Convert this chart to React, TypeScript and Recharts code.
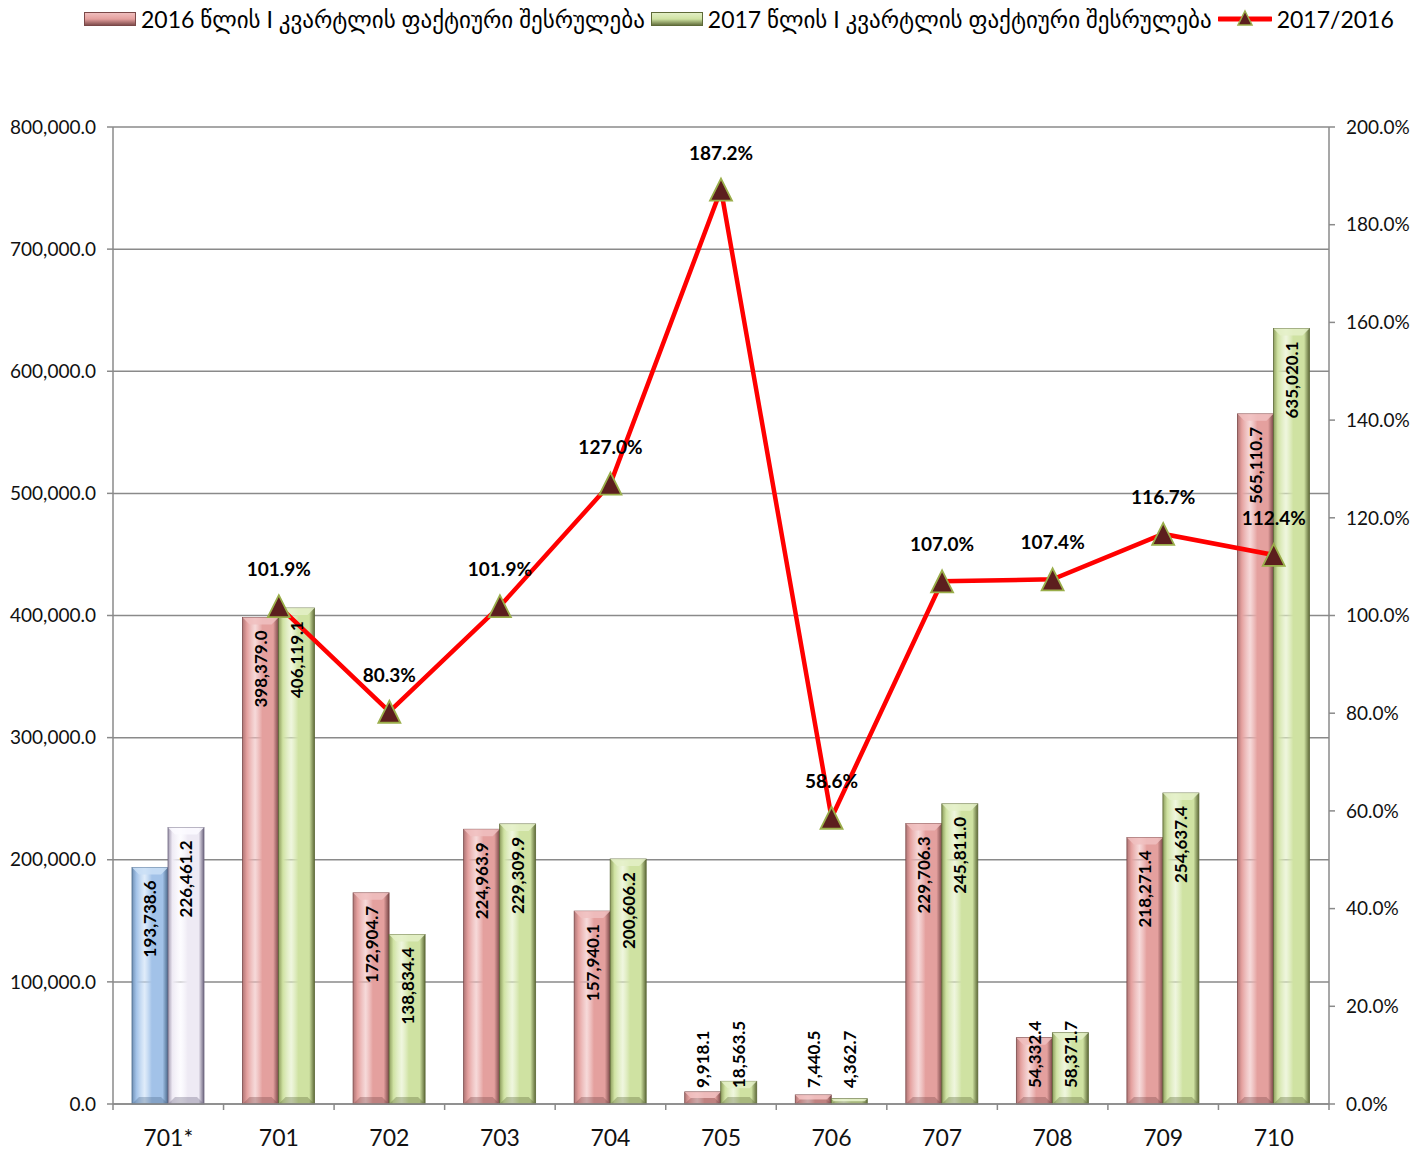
import React from "react";
import { ComposedChart, Bar, Line, XAxis, YAxis, CartesianGrid, LabelList } from "recharts";

const categories = ["701*", "701", "702", "703", "704", "705", "706", "707", "708", "709", "710"];
const fact2016 = [193738.6, 398379.0, 172904.7, 224963.9, 157940.1, 9918.1, 7440.5, 229706.3, 54332.4, 218271.4, 565110.7];
const fact2017 = [226461.2, 406119.1, 138834.4, 229309.9, 200606.2, 18563.5, 4362.7, 245811.0, 58371.7, 254637.4, 635020.1];
const ratio = [null, 101.9, 80.3, 101.9, 127.0, 187.2, 58.6, 107.0, 107.4, 116.7, 112.4];
const leftTicks = [0, 100000, 200000, 300000, 400000, 500000, 600000, 700000, 800000];
const rightTicks = [0, 20, 40, 60, 80, 100, 120, 140, 160, 180, 200];

const label2016 = "2016 წლის I კვარტლის ფაქტიური შესრულება";
const label2017 = "2017 წლის I კვარტლის ფაქტიური შესრულება";
const labelRatio = "2017/2016";

const data = categories.map((name, i) => ({
  name,
  v2016: fact2016[i],
  v2017: fact2017[i],
  ratio: ratio[i],
}));

const W = 1426;
const H = 1152;
const MARGIN = { top: 127, right: 7, bottom: 8, left: 8 };
const LEFT_W = 105;
const RIGHT_W = 90;
const XAXIS_H = 40;
const PLOT_W = W - MARGIN.left - MARGIN.right - LEFT_W - RIGHT_W;
const PLOT_BOTTOM = H - MARGIN.bottom - XAXIS_H;
const BAND = PLOT_W / categories.length;

const FONT = "Lato, 'DejaVu Sans', sans-serif";
const AXIS = "#8a8a8a";

type Pal = { id: string; edge: string; mid: string; light: string; dark: string };
const PINK: Pal = { id: "gPink", edge: "#b07676", mid: "#e4a09e", light: "#f0c0c0", dark: "#7a4848" };
const GREEN: Pal = { id: "gGreen", edge: "#8e9e5e", mid: "#cfe2a2", light: "#e4f0c8", dark: "#5e6a38" };
const BLUE: Pal = { id: "gBlue", edge: "#7090b4", mid: "#a2c2e8", light: "#cadff6", dark: "#4c6a8c" };
const WHITE: Pal = { id: "gWhite", edge: "#a098ae", mid: "#eeeaf4", light: "#fbfaff", dark: "#6e6680" };
const PALS = [PINK, GREEN, BLUE, WHITE];

function BevelBar(props: any) {
  const { x, y, width, height, pal } = props;
  if (!height || height <= 0) return null;
  const p: Pal = pal;
  const b = Math.min(7, height / 2, width / 4);
  return (
    <g>
      <rect x={x} y={y} width={width} height={height} fill={`url(#${p.id})`} stroke={p.dark} strokeWidth={0.8} />
      <polygon
        points={`${x},${y} ${x + width},${y} ${x + width - b},${y + b} ${x + b},${y + b}`}
        fill={p.light}
        opacity={0.85}
      />
      <polygon
        points={`${x},${y + height} ${x + width},${y + height} ${x + width - b},${y + height - b} ${x + b},${y + height - b}`}
        fill={p.dark}
        opacity={0.35}
      />
    </g>
  );
}

const fmtNum = (v: number) =>
  v.toLocaleString("en-US", { minimumFractionDigits: 1, maximumFractionDigits: 1 });

function BarValueLabel(props: any) {
  const { x, y, width, height, value } = props;
  if (value == null) return null;
  const text = fmtNum(value);
  const cx = x + width / 2;
  const textLen = text.length * 9.4;
  const inside = height >= textLen + 26;
  const ay = inside ? y + 13 : y + height - 16;
  return (
    <text
      x={cx}
      y={ay}
      transform={`rotate(-90 ${cx} ${ay})`}
      textAnchor={inside ? "end" : "start"}
      dominantBaseline="central"
      fontFamily={FONT}
      fontWeight={700}
      fontSize={17}
      fill="#000"
    >
      {text}
    </text>
  );
}

function RatioLabel(props: any) {
  const { x, y, value } = props;
  if (value == null) return null;
  return (
    <text x={x} y={y - 30} textAnchor="middle" fontFamily={FONT} fontWeight={700} fontSize={19} fill="#000">
      {`${Number(value).toFixed(1)}%`}
    </text>
  );
}

function TriangleDot(props: any) {
  const { cx, cy, index, value } = props;
  if (value == null || cy == null) return <g key={`d-${index}`} />;
  return (
    <path
      key={`d-${index}`}
      d={`M${cx},${cy - 11} L${cx + 11},${cy + 11} L${cx - 11},${cy + 11} Z`}
      fill="#5c1e1e"
      stroke="#9aae4a"
      strokeWidth={1.8}
    />
  );
}

function XTick(props: any) {
  const { x, payload, index } = props;
  const last = index === categories.length - 1;
  return (
    <g>
      <line x1={x - BAND / 2} x2={x - BAND / 2} y1={PLOT_BOTTOM} y2={PLOT_BOTTOM + 6} stroke={AXIS} strokeWidth={1.5} />
      {last && (
        <line x1={x + BAND / 2} x2={x + BAND / 2} y1={PLOT_BOTTOM} y2={PLOT_BOTTOM + 6} stroke={AXIS} strokeWidth={1.5} />
      )}
      <text x={x} y={PLOT_BOTTOM + 42} textAnchor="middle" fontFamily={FONT} fontSize={23} fill="#111">
        {payload.value}
      </text>
    </g>
  );
}

function BarIcon({ pal }: { pal: Pal }) {
  return (
    <svg width={52} height={14} style={{ display: "block" }}>
      <defs>
        <linearGradient id={`leg-${pal.id}`} x1="0" y1="0" x2="0" y2="1">
          <stop offset="0%" stopColor={pal.light} />
          <stop offset="50%" stopColor={pal.mid} />
          <stop offset="100%" stopColor={pal.dark} />
        </linearGradient>
      </defs>
      <rect x={0.5} y={0.5} width={51} height={13} fill={`url(#leg-${pal.id})`} stroke={pal.dark} strokeWidth={1} />
    </svg>
  );
}

function LineIcon() {
  return (
    <svg width={54} height={20} style={{ display: "block" }}>
      <line x1={1} x2={53} y1={10} y2={10} stroke="#ff0000" strokeWidth={5} strokeLinecap="round" />
      <path d="M27,2 L34,16 L20,16 Z" fill="#5c1e1e" stroke="#9aae4a" strokeWidth={1.5} />
    </svg>
  );
}

function TopLegend() {
  const item: React.CSSProperties = { display: "flex", alignItems: "center", gap: 5 };
  const txt: React.CSSProperties = { fontFamily: FONT, fontSize: 23, color: "#000", whiteSpace: "nowrap" };
  return (
    <div
      style={{
        position: "absolute",
        top: 5,
        left: 84,
        display: "flex",
        gap: 6,
      }}
    >
      <div style={item}>
        <BarIcon pal={PINK} />
        <span style={txt}>{label2016}</span>
      </div>
      <div style={item}>
        <BarIcon pal={GREEN} />
        <span style={txt}>{label2017}</span>
      </div>
      <div style={item}>
        <LineIcon />
        <span style={txt}>{labelRatio}</span>
      </div>
    </div>
  );
}

export default function App() {
  return (
    <div style={{ position: "absolute", top: 0, left: 0, width: W, height: H, background: "#fff" }}>
      <TopLegend />
      <ComposedChart width={W} height={H} data={data} margin={MARGIN} barGap={0} barSize={36}>
        <defs>
          {PALS.map((p) => (
            <linearGradient key={p.id} id={p.id} x1="0" y1="0" x2="1" y2="0">
              <stop offset="0%" stopColor={p.edge} />
              <stop offset="12%" stopColor={p.mid} />
              <stop offset="35%" stopColor={p.light} stopOpacity={0.6} />
              <stop offset="55%" stopColor={p.mid} />
              <stop offset="85%" stopColor={p.mid} />
              <stop offset="100%" stopColor={p.dark} />
            </linearGradient>
          ))}
        </defs>
        <CartesianGrid yAxisId="left" vertical={false} stroke={AXIS} strokeWidth={1.5} />
        <XAxis
          dataKey="name"
          height={XAXIS_H}
          stroke={AXIS}
          strokeWidth={1.5}
          tickLine={false}
          interval={0}
          tick={<XTick />}
        />
        <YAxis
          yAxisId="left"
          width={LEFT_W}
          domain={[0, 800000]}
          ticks={leftTicks}
          stroke={AXIS}
          strokeWidth={1.5}
          tickSize={6}
          tickMargin={11}
          tickFormatter={fmtNum}
          tick={{ fontFamily: FONT, fontSize: 19, fill: "#111" }}
        />
        <YAxis
          yAxisId="right"
          orientation="right"
          width={RIGHT_W}
          domain={[0, 200]}
          ticks={rightTicks}
          stroke={AXIS}
          strokeWidth={1.5}
          tickSize={6}
          tickMargin={11}
          tickFormatter={(v: number) => `${v.toFixed(1)}%`}
          tick={{ fontFamily: FONT, fontSize: 19, fill: "#111" }}
        />
        <Bar
          yAxisId="left"
          dataKey="v2016"
          name={label2016}
          isAnimationActive={false}
          shape={(p: any) => <BevelBar {...p} pal={p.index === 0 ? BLUE : PINK} />}
        >
          <LabelList dataKey="v2016" content={<BarValueLabel />} />
        </Bar>
        <Bar
          yAxisId="left"
          dataKey="v2017"
          name={label2017}
          isAnimationActive={false}
          shape={(p: any) => <BevelBar {...p} pal={p.index === 0 ? WHITE : GREEN} />}
        >
          <LabelList dataKey="v2017" content={<BarValueLabel />} />
        </Bar>
        <Line
          yAxisId="right"
          dataKey="ratio"
          name={labelRatio}
          type="linear"
          stroke="#ff0000"
          strokeWidth={4.5}
          dot={TriangleDot}
          activeDot={false}
          isAnimationActive={false}
        >
          <LabelList dataKey="ratio" content={<RatioLabel />} />
        </Line>
      </ComposedChart>
    </div>
  );
}
